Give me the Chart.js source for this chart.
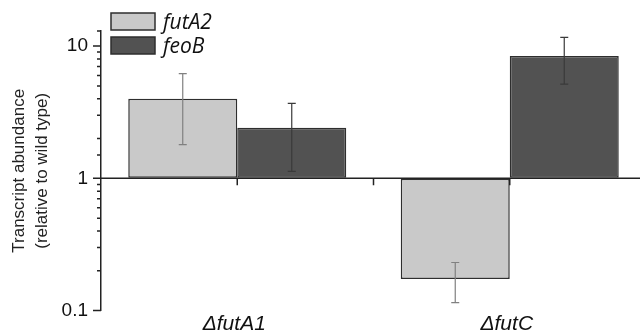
<!DOCTYPE html>
<html>
<head>
<meta charset="utf-8">
<script src="https://cdn.jsdelivr.net/npm/chart.js@4.4.1/dist/chart.umd.min.js"></script>
<style>
  html, body { margin: 0; padding: 0; background: #fff; overflow: hidden; }
  #wrap { width: 640px; height: 335px; overflow: hidden; position: relative; }
  canvas { display: block; }
</style>
</head>
<body>
<div id="wrap"><canvas id="c" width="646" height="335"></canvas></div>
<script>
// ---- data ----
const categories = ['\u0394futA1', '\u0394futC'];
const seriesNames = ['futA2', 'feoB'];
const futA2Values = [4.0, 0.173];
const futA2Errors = [2.2, 0.058];
const feoBValues = [2.41, 8.4];
const feoBErrors = [1.28, 3.25];
const yTickLabels = [0.1, 1, 10];

const FONT = "'Liberation Sans', Arial, sans-serif";

const errorBarPlugin = {
  id: 'errorBars',
  afterDatasetsDraw(chart) {
    const ctx = chart.ctx;
    const y = chart.scales.y;
    chart.data.datasets.forEach((ds, di) => {
      const meta = chart.getDatasetMeta(di);
      meta.data.forEach((bar, i) => {
        const v = ds.data[i], e = ds.errors[i];
        const yt = y.getPixelForValue(v + e);
        const yb = y.getPixelForValue(v - e);
        ctx.save();
        ctx.strokeStyle = ds.errorColor;
        ctx.lineWidth = 1.2;
        ctx.beginPath();
        ctx.moveTo(bar.x, yt); ctx.lineTo(bar.x, yb);
        ctx.moveTo(bar.x - 4, yt); ctx.lineTo(bar.x + 4, yt);
        ctx.moveTo(bar.x - 4, yb); ctx.lineTo(bar.x + 4, yb);
        ctx.stroke();
        ctx.restore();
      });
    });
  }
};

const axesPlugin = {
  id: 'axesDeco',
  afterDatasetsDraw(chart) {
    const ctx = chart.ctx;
    const x = chart.scales.x, y = chart.scales.y;
    const ca = chart.chartArea;
    ctx.save();
    const y1 = y.getPixelForValue(1);
    ctx.strokeStyle = '#222';
    ctx.lineWidth = 1.5;
    ctx.beginPath();
    ctx.moveTo(ca.left, y1); ctx.lineTo(ca.right, y1);
    const n = categories.length;
    for (let i = 0; i < n; i++) {
      const px = x.getPixelForValue(i);
      ctx.moveTo(px, y1); ctx.lineTo(px, y1 + 7);
      if (i < n - 1) {
        const mid = (px + x.getPixelForValue(i + 1)) / 2;
        ctx.moveTo(mid, y1); ctx.lineTo(mid, y1 + 7);
      }
    }
    y.ticks.forEach(t => {
      const py = y.getPixelForValue(t.value);
      const len = yTickLabels.includes(t.value) ? 8 : 4;
      ctx.moveTo(ca.left - len, py); ctx.lineTo(ca.left, py);
    });
    ctx.stroke();
    ctx.restore();
  }
};

const legendPlugin = {
  id: 'customLegend',
  afterDraw(chart) {
    const ctx = chart.ctx;
    ctx.save();
    chart.data.datasets.forEach((ds, i) => {
      const bx = 111, by = 13 + i * 24;
      ctx.fillStyle = ds.backgroundColor;
      ctx.fillRect(bx, by, 44, 17);
      ctx.strokeStyle = ds.borderColor;
      ctx.lineWidth = 1.5;
      ctx.strokeRect(bx, by, 44, 17);
      ctx.fillStyle = '#111';
      ctx.font = "italic 21px 'Open Sans', sans-serif";
      ctx.textBaseline = 'alphabetic';
      ctx.fillText(ds.label, 163, by + 16);
    });
    ctx.restore();
  }
};

new Chart(document.getElementById('c'), {
  type: 'bar',
  data: {
    labels: categories,
    datasets: [
      { label: seriesNames[0], data: futA2Values, errors: futA2Errors, errorColor: '#808080',
        backgroundColor: '#c9c9c9', borderColor: '#2e2e2e', borderWidth: 1.5, borderSkipped: false, base: 1 },
      { label: seriesNames[1], data: feoBValues, errors: feoBErrors, errorColor: '#3a3a3a',
        backgroundColor: '#525252', borderColor: '#2e2e2e', borderWidth: 1.5, borderSkipped: false, base: 1 }
    ]
  },
  options: {
    responsive: false,
    animation: false,
    devicePixelRatio: 1,
    layout: { padding: { top: 31, right: 0, left: 0, bottom: 0 } },
    datasets: { bar: { categoryPercentage: 0.8, barPercentage: 1.0 } },
    plugins: { legend: { display: false }, tooltip: { enabled: false } },
    scales: {
      x: {
        type: 'category',
        offset: true,
        grid: { display: false, drawTicks: false },
        border: { display: false },
        ticks: { color: '#111', font: { family: FONT, size: 21, style: 'italic' }, padding: 1, maxRotation: 0, labelOffset: -3 },
        afterFit(s) { s.height = 22; }
      },
      y: {
        type: 'logarithmic',
        min: 0.1,
        max: 13,
        grid: { drawOnChartArea: false, drawTicks: false },
        border: { display: true, color: '#222', width: 1.5 },
        ticks: {
          autoSkip: false,
          color: '#111',
          padding: 13,
          font: { family: FONT, size: 19 },
          callback: (v) => yTickLabels.includes(v) ? String(v) : ''
        },
        title: {
          display: true,
          text: ['Transcript abundance', '(relative to wild type)'],
          color: '#222',
          font: { family: FONT, size: 17, lineHeight: 1.4 },
          padding: { top: 7, bottom: 0 }
        },
        afterFit(s) { s.width = 101; }
      }
    }
  },
  plugins: [errorBarPlugin, axesPlugin, legendPlugin]
});
</script>
</body>
</html>
